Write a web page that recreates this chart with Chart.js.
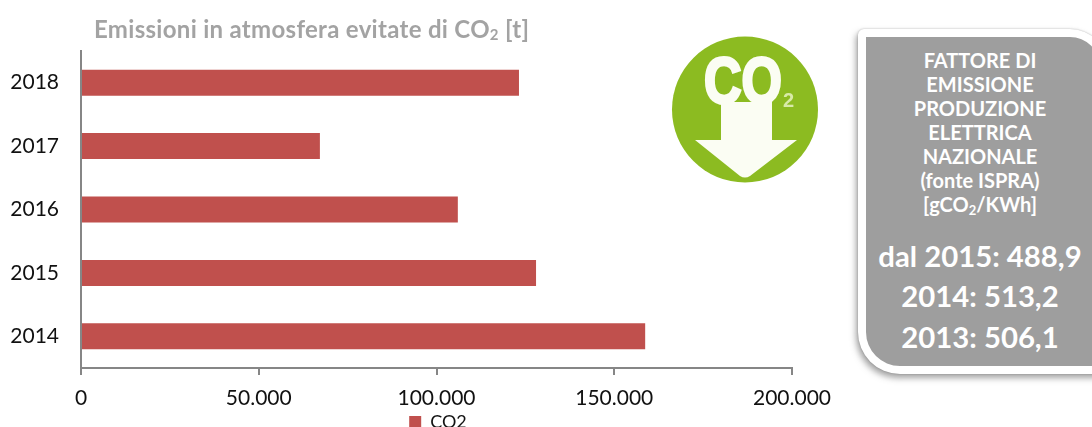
<!DOCTYPE html>
<html><head><meta charset="utf-8">
<script src="https://cdn.jsdelivr.net/npm/chart.js@4"></script>
<style>
html,body{margin:0;padding:0;background:#fff;overflow:hidden;width:1092px;height:427px;font-family:Lato,sans-serif}
#wrap{position:absolute;left:0;top:0;width:874px;height:441px}
#title{position:absolute;left:94px;top:16px;font:bold 24px Lato,sans-serif;letter-spacing:.3px;color:#a3a3a3;white-space:nowrap;line-height:26px}
#title sub{font-size:15px;vertical-align:baseline;position:relative;top:2px}
#logo{position:absolute;left:660px;top:30px}
#panel{position:absolute;left:858px;top:29px;width:250px;height:345px;box-sizing:border-box;background:#9e9e9e;border:8px solid #fff;border-radius:6px 38px 6px 42px;box-shadow:-2px 4px 6px rgba(90,90,90,.55),0 0 2px rgba(120,120,120,.5)}
.t{position:absolute;left:868px;width:224px;text-align:center;color:#fff;font-weight:bold;white-space:nowrap}
#head{top:48px;font-size:20px;line-height:24px}
#head sub{font-size:13px;vertical-align:baseline;position:relative;top:3px}
.big{font-size:29.3px;line-height:36px}
</style></head>
<body>
<div id="panel"></div>
<div class="t" id="head">FATTORE DI<br>EMISSIONE<br>PRODUZIONE<br>ELETTRICA<br>NAZIONALE<br>(fonte ISPRA)<br>[gCO<sub>2</sub>/KWh]</div>
<div class="t big" style="top:238px">dal 2015: 488,9</div>
<div class="t big" style="top:278px">2014: 513,2</div>
<div class="t big" style="top:319px">2013: 506,1</div>
<div id="wrap"><canvas id="c" width="874" height="441"></canvas></div>
<div id="title">Emissioni in atmosfera evitate di CO<sub>2</sub> [t]</div>
<svg id="logo" width="170" height="160" viewBox="660 30 170 160">
<circle cx="745" cy="109.5" r="73" fill="#8cbb21"/>
<path d="M721 102H772V140H797L750 176Q745 179 740 176L695 140H721Z" fill="#fbfdf3"/>
<text x="704" y="103" textLength="78" lengthAdjust="spacingAndGlyphs" font-family="Liberation Sans Narrow, Liberation Sans" font-weight="bold" font-size="65" fill="#fbfdf3" stroke="#fbfdf3" stroke-width="3">CO</text>
<text x="783" y="107" font-family="Liberation Sans Narrow, Liberation Sans" font-weight="bold" font-size="20" fill="#d8eaa8">2</text>
</svg>
<script>
const categories = ["2018","2017","2016","2015","2014"];
const seriesName = "CO2";
const co2Values = [123200,67200,106000,128000,158700];
const xTickValues = [0,50000,100000,150000,200000];
const xTickLabels = ["0","50.000","100.000","150.000","200.000"];

const moveLegend = {id:"moveLegend",beforeDraw(c){ c.legend.left = 42; c.legend.right = 834; }};
new Chart(document.getElementById("c"),{
  type:"bar",
  data:{labels:categories,datasets:[{label:seriesName,data:co2Values,backgroundColor:"#c0504d",barPercentage:0.41,categoryPercentage:1}]},
  plugins:[moveLegend],
  options:{
    indexAxis:"y",responsive:false,animation:false,
    layout:{padding:{top:51,right:82,left:0,bottom:0}},
    plugins:{
      title:{display:false},tooltip:{enabled:false},
      legend:{position:"bottom",labels:{boxWidth:12,boxHeight:12,font:{family:"Lato",size:18},color:"#111",padding:3,generateLabels:c=>Chart.defaults.plugins.legend.labels.generateLabels(c).map(l=>({...l,lineWidth:0}))}}
    },
    scales:{
      x:{min:0,max:200000,
        afterBuildTicks:a=>{a.ticks=xTickValues.map(v=>({value:v}))},
        afterFit:a=>{a.height=42},
        ticks:{callback:(v)=>xTickLabels[xTickValues.indexOf(v)],font:{family:"Lato",size:21},color:"#111",maxRotation:0,padding:11},
        grid:{drawOnChartArea:false,drawTicks:true,tickLength:7,color:"#868686",lineWidth:2},
        border:{color:"#868686",width:2}},
      y:{afterFit:a=>{a.width=81},
        ticks:{font:{family:"Lato",size:21},color:"#111",padding:14},
        grid:{display:false},
        border:{color:"#868686",width:2}}
    }
  }
});
</script>
</body></html>
